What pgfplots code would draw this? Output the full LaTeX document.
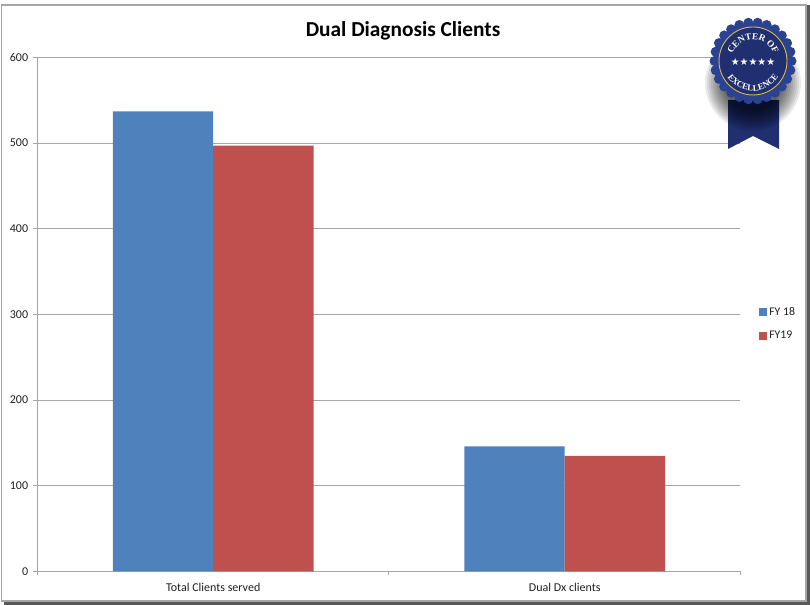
\documentclass[border=0pt]{standalone}
\usepackage{fontspec}
\setmainfont{Carlito}
\newfontfamily\serifbadge{Liberation Serif}
\newfontfamily\symb{DejaVu Sans}
\usepackage{pgfplots}
\pgfplotsset{compat=1.18}
\usetikzlibrary{decorations.text}
\definecolor{barblue}{HTML}{4F81BD}
\definecolor{barred}{HTML}{C0504D}
\definecolor{gridgray}{HTML}{A6A6A6}
\definecolor{navy}{HTML}{1F2F6F}
\definecolor{navyb}{HTML}{2A4291}
\definecolor{gold}{HTML}{D9B44A}
\definecolor{txt}{HTML}{202020}
\pgfplotstableread{
x fy18 fy19
0 537 497
1 146 135
}\clients
\begin{document}
\begin{tikzpicture}[x=0.75pt,y=0.75pt]
\useasboundingbox (0,0) rectangle (810,605);
% chart frame and its shadow
\fill[white] (0,0) rectangle (810,605);
\fill[black!65] (4,0) rectangle (810,8);
\fill[black!65] (802,0) rectangle (810,600);
\fill[white,draw=black!35,line width=1.2pt] (1.5,4) rectangle (806,600);
\begin{axis}[
  at={(28.1pt,25.15pt)}, anchor=south west,
  scale only axis, width=527.25pt, height=385.5pt,
  xmin=-0.5, xmax=1.5, ymin=0, ymax=600,
  axis lines=left, axis line style={-,gridgray,line width=0.75pt},
  ytick={0,100,...,600},
  xtick={0,1}, xticklabels={Total Clients served,Dual Dx clients},
  minor xtick={-0.5,0.5,1.5},
  ymajorgrids, grid style={gridgray,line width=0.75pt},
  xmajorgrids=false,
  major x tick style={draw=none},
  tick style={gridgray,line width=0.75pt},
  tick align=outside,
  major tick length=3pt, minor tick length=3pt,
  tick label style={font=\fontsize{9pt}{10pt}\selectfont,text=txt},
  /pgf/number format/assume math mode=true,
  xticklabel style={yshift=-2.2pt},
  yticklabel style={xshift=-0.5pt},
  ybar, bar width=0.2857,
  clip=false,
  legend style={at={(1.0255,0.4815)},anchor=west,draw=none,fill=none,
    font=\fontsize{8.8pt}{10pt}\selectfont,text=txt,
    row sep=6.1pt,inner sep=0pt,cells={anchor=west}},
  legend cell align=left,
  legend image code/.code={\fill[#1] (0cm,-2.9pt) rectangle (6pt,3.1pt);},
]
\addplot[fill=barblue,draw=none,bar shift=-0.1428] table[x=x,y=fy18]{\clients};
\addplot[fill=barred,draw=none,bar shift=0.1428] table[x=x,y=fy19]{\clients};
\legend{FY 18,FY19}
\end{axis}
% title
\node[font=\fontsize{16pt}{18pt}\selectfont\bfseries,text=black] at (403,574) {Dual Diagnosis Clients};
% ribbon
\fill[navy] (728,505) -- (779,505) -- (779,456) -- (753,469) -- (728,456) -- cycle;
% soft shadow
\foreach \r in {48,46,...,28} {\fill[black,opacity=0.08] (753,522) circle (\r);}
% seal
\foreach \a in {0,13.846,...,359} {\fill[navyb] (753,544) ++(\a:38.5) circle (5);}
\fill[navyb] (753,544) circle (38.5);
\fill[navy] (753,544) circle (34);
\draw[gold,line width=0.7pt] (753,544) circle (34);
\path[postaction={decorate,decoration={text along path,text align=center,
   text={|\serifbadge\bfseries\fontsize{6.9pt}{8pt}\selectfont\color{white}|CENTER OF}}}]
   (753,544) ++(172:21.5) arc (172:8:21.5);
\path[postaction={decorate,decoration={text along path,text align=center,
   text={|\serifbadge\bfseries\fontsize{6.6pt}{8pt}\selectfont\color{white}|EXCELLENCE}}}]
   (753,544) ++(190:30) arc (190:350:30);
\node[text=white,font=\symb\fontsize{7.4pt}{8pt}\selectfont,inner sep=0pt] at (753,543) {★★★★★};
\end{tikzpicture}
\end{document}
